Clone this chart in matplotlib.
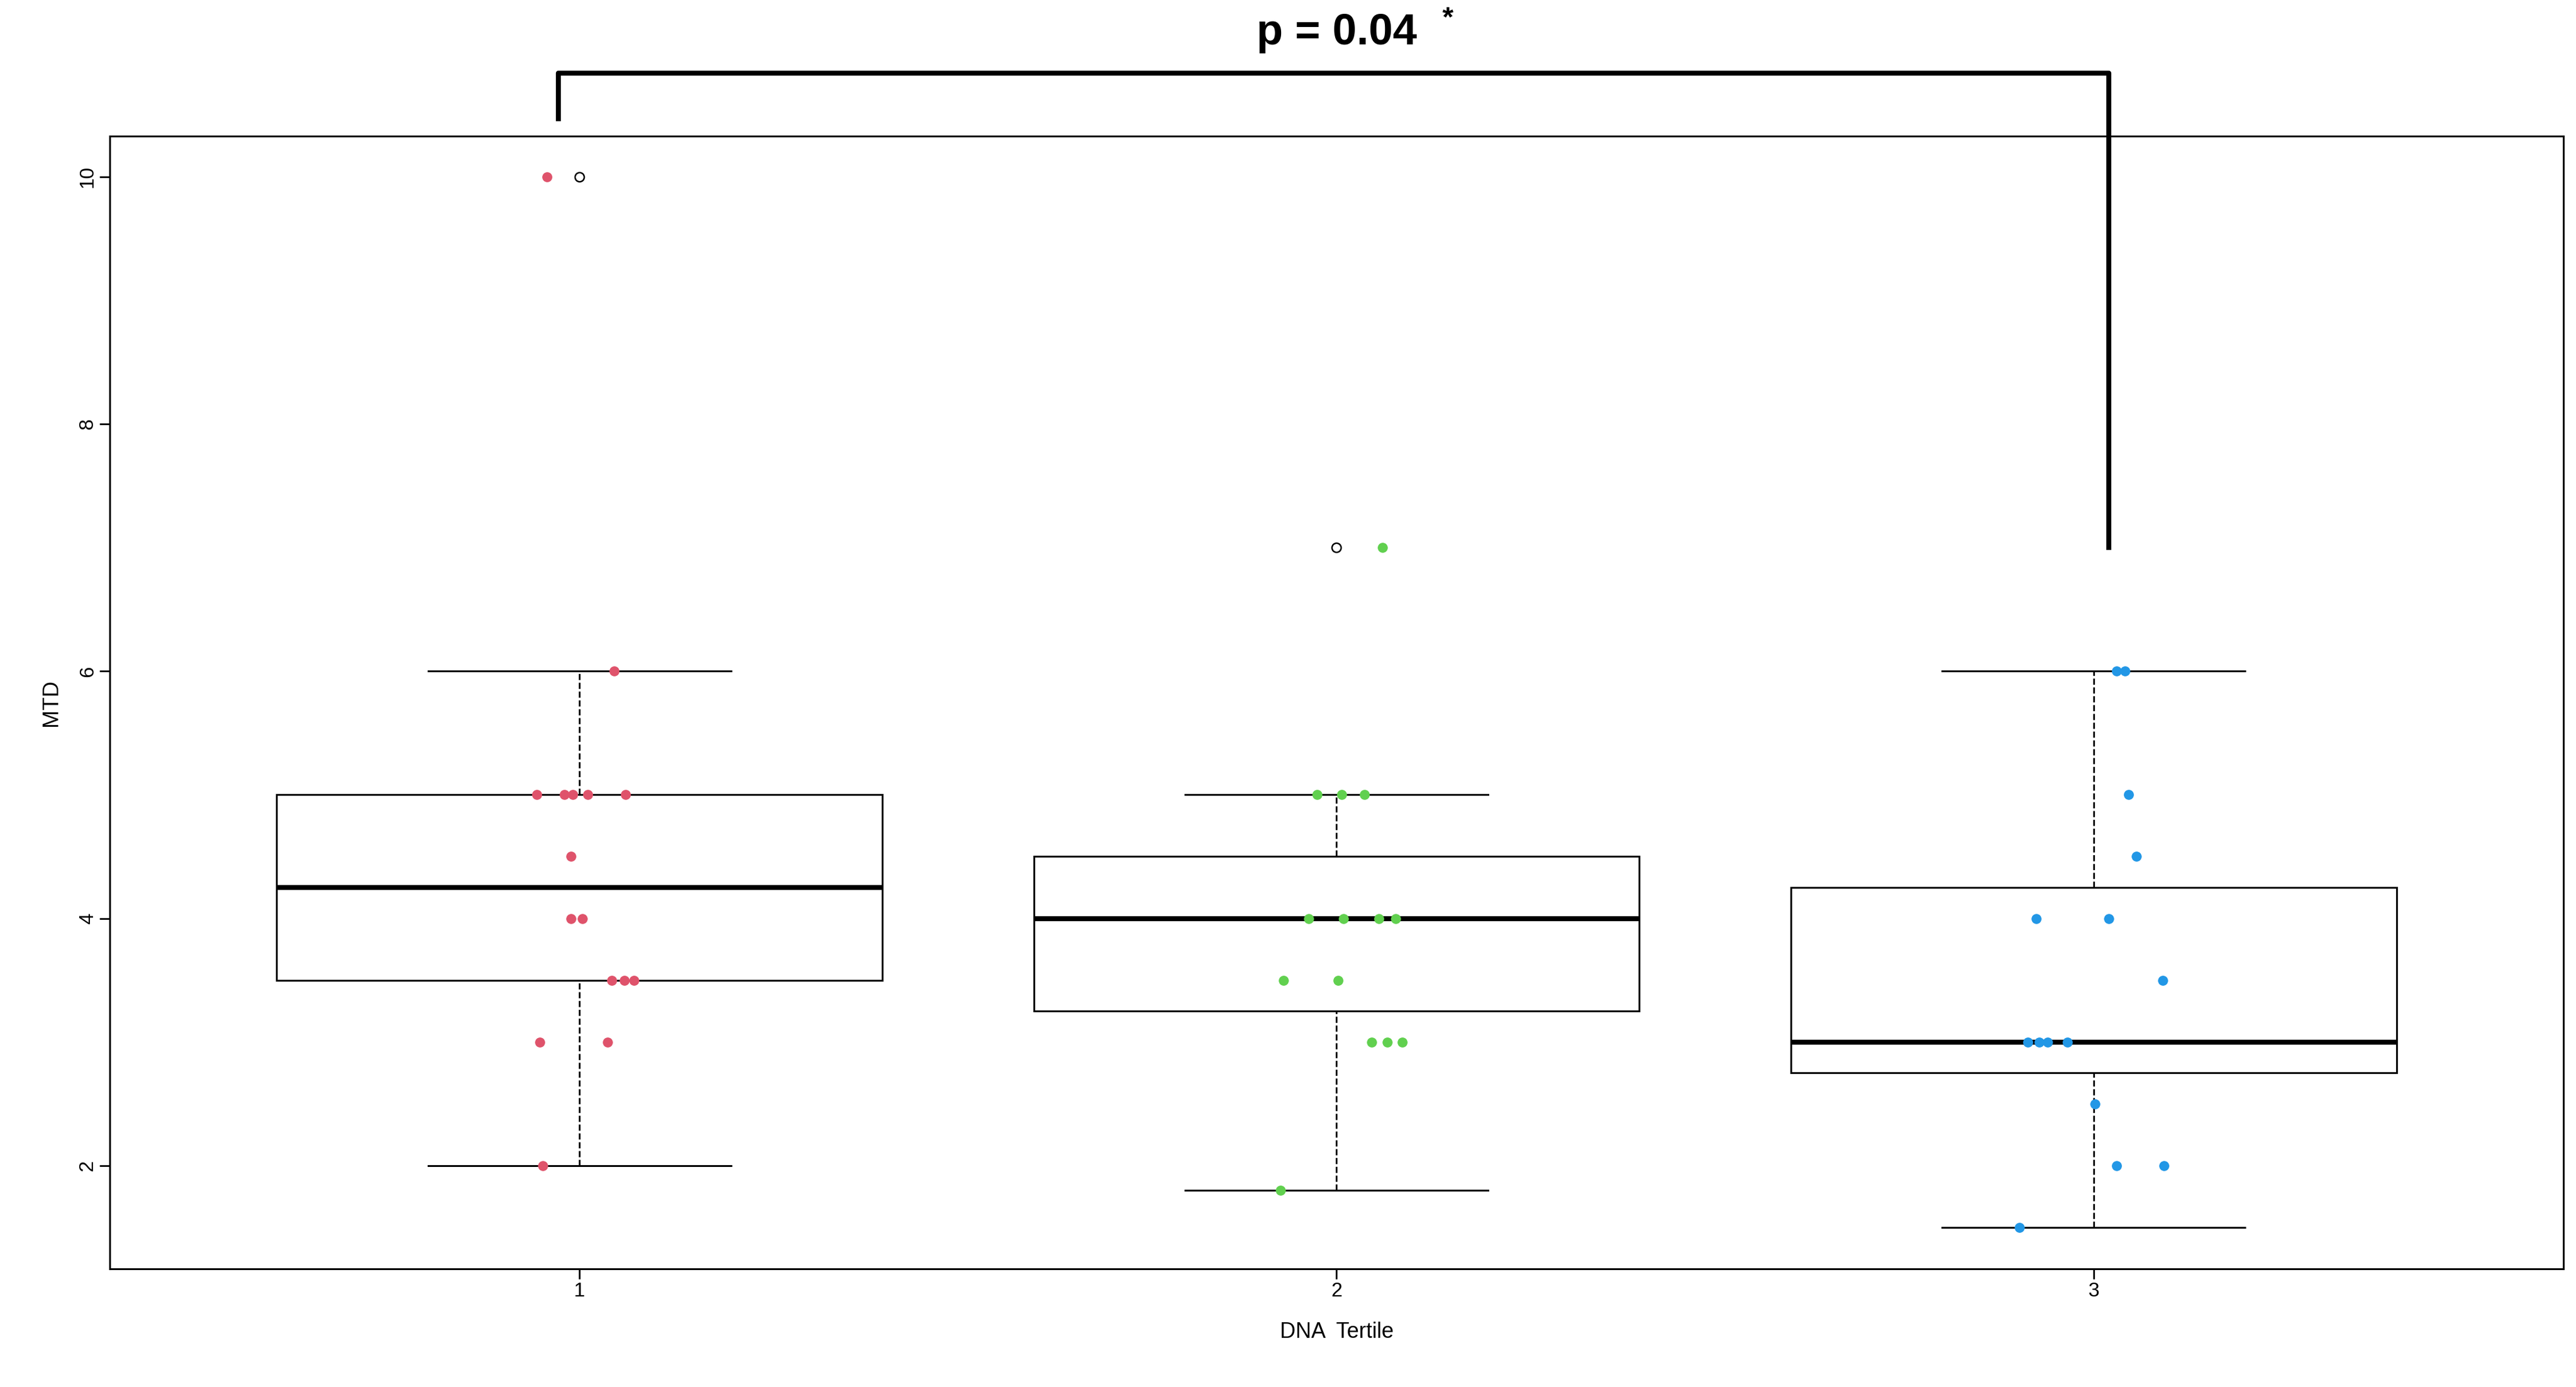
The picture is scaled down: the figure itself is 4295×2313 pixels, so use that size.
import matplotlib
matplotlib.use("Agg")
import matplotlib.pyplot as plt

plt.rcParams['font.family'] = ['Liberation Sans', 'DejaVu Sans']

groups = [1, 2, 3]
colors = ['#DF536B', '#61D04F', '#2297E6']
# box stats: whisker low, q1, median, q3, whisker high
stats = [(2, 3.5, 4.25, 5, 6), (1.8, 3.25, 4, 4.5, 5), (1.5, 2.75, 3, 4.25, 6)]
outliers = [[10], [7], []]
# jittered points (x, y)
pts1_x = [0.957, 1.046, 0.944, 0.980, 1.011, 0.991, 1.061, 0.989, 0.989, 1.004, 1.043, 1.059, 1.072, 0.948, 1.037, 0.952]
pts1_y = [10, 6, 5, 5, 5, 5, 5, 4.5, 4, 4, 3.5, 3.5, 3.5, 3, 3, 2]
pts2_x = [2.061, 1.974, 2.007, 2.037, 1.963, 2.009, 2.056, 2.078, 1.930, 2.002, 2.046, 2.067, 2.087, 1.926]
pts2_y = [7, 5, 5, 5, 4, 4, 4, 4, 3.5, 3.5, 3, 3, 3, 1.8]
pts3_x = [3.030, 3.041, 3.046, 3.056, 2.924, 3.020, 3.091, 2.913, 2.928, 2.939, 2.965, 3.002, 3.030, 3.093, 2.902]
pts3_y = [6, 6, 5, 4.5, 4, 4, 3.5, 3, 3, 3, 3, 2.5, 2, 2, 1.5]
pts_x = [pts1_x, pts2_x, pts3_x]
pts_y = [pts1_y, pts2_y, pts3_y]

fig = plt.figure(figsize=(42.95, 23.13), dpi=100)
ax = fig.add_axes([0.0427, 0.085, 0.9523, 0.817])
ax.set_xlim(0.38, 3.62)
ax.set_ylim(1.163, 10.33)

bw, cw = 0.4, 0.2
for g, (lo, q1, med, q3, hi), outs in zip(groups, stats, outliers):
    ax.add_patch(plt.Rectangle((g - bw, q1), 2 * bw, q3 - q1, fill=False, lw=2.2, ec='black'))
    ax.plot([g - bw, g + bw], [med, med], color='black', lw=6, solid_capstyle='butt')
    ax.plot([g, g], [q3, hi], 'k--', lw=2)
    ax.plot([g, g], [lo, q1], 'k--', lw=2)
    ax.plot([g - cw, g + cw], [hi, hi], 'k-', lw=2.2)
    ax.plot([g - cw, g + cw], [lo, lo], 'k-', lw=2.2)
    for o in outs:
        ax.plot(g, o, 'o', mfc='white', mec='black', ms=11, mew=1.8)

for xs, ys, c in zip(pts_x, pts_y, colors):
    ax.plot(xs, ys, 'o', color=c, ms=11, ls='none')

ax.set_xticks(groups)
ax.set_xticklabels([str(g) for g in groups])
ax.set_yticks([2, 4, 6, 8, 10])
ax.set_yticklabels(['2', '4', '6', '8', '10'], rotation=90, va='center')
ax.tick_params(labelsize=24, length=12, width=2)
for s in ax.spines.values():
    s.set_linewidth(2.2)
ax.set_xlabel('DNA  Tertile', fontsize=26, labelpad=25)
ax.set_ylabel('MTD', fontsize=26, labelpad=20)

# significance bracket
ax.plot([0.972, 0.972, 3.02, 3.02], [10.47, 10.84, 10.84, 7.0], color='black', lw=6, clip_on=False)
ax.text(2.0, 11.0, 'p = 0.04', fontsize=52, fontweight='bold', ha='center', va='bottom')
ax.text(2.14, 11.17, '*', fontsize=34, fontweight='bold', ha='left', va='bottom')

fig.savefig('out.png', dpi=100, facecolor='white')
